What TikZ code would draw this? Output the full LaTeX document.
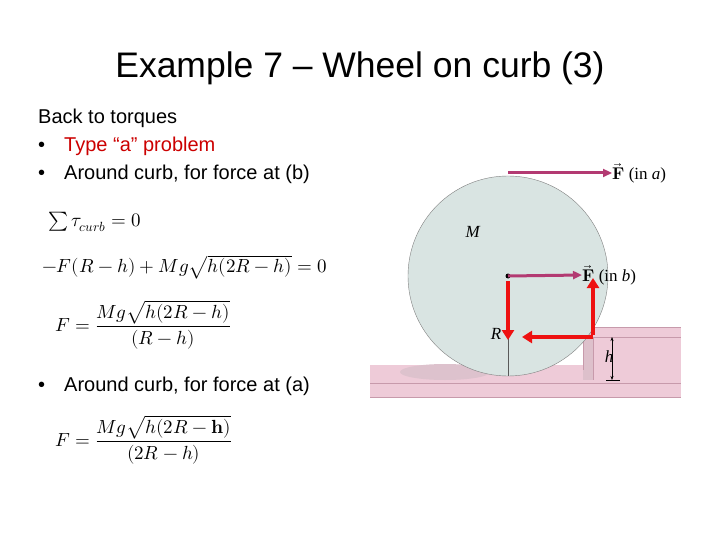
\documentclass[tikz,border=0pt]{standalone}
\usepackage{fontspec}
\setmainfont{Liberation Sans}
\newfontfamily\serif{Liberation Serif}
\usepackage{amsmath,unicode-math}
\setmathfont{Latin Modern Math}
\usetikzlibrary{arrows.meta}
\definecolor{wheel}{HTML}{D9E4E2}
\definecolor{slab}{HTML}{EECBD8}
\definecolor{slabd}{HTML}{C79AAB}
\definecolor{force}{HTML}{B33A72}
\definecolor{redarr}{HTML}{EE1111}
\definecolor{typ}{HTML}{CC0000}
\tikzset{
  body/.style={anchor=west,font=\fontsize{20}{24}\selectfont,inner sep=0},
  eq/.style={anchor=west,font=\fontsize{19}{22}\selectfont,inner sep=0},
  farrow/.style={force,line width=3pt,-{Triangle[length=9pt,width=8pt]}},
  rarrow/.style={redarr,line width=4pt,-{Triangle[length=10pt,width=12pt]}},
  lab/.style={font=\fontsize{17}{20}\selectfont\serif,inner sep=0}
}
\begin{document}
\begin{tikzpicture}[x=1pt,y=-1pt]
\useasboundingbox[fill=white] (0,0) rectangle (720,540);
\node[font=\fontsize{35.5}{40}\selectfont] (title) at (360,68) {Example 7 – Wheel on curb (3)};
\node[body] (t1) at (38,118) {Back to torques};
\node[body] (t2) at (38,146) {\textbullet\hspace{19pt}\textcolor{typ}{Type “a” problem}};
\node[body] (t3) at (38,174) {\textbullet\hspace{19pt}Around curb, for force at (b)};
\node[eq] (e1) at (48,222) {$\sum\tau_{curb}=0$};
\node[eq] (e2) at (42,267) {$-F(R-h)+Mg\sqrt{h(2R-h)}=0$};
\node[eq] (e3) at (55,325) {$F=\dfrac{Mg\sqrt{h(2R-h)}}{(R-h)}$};
\node[body] (t4) at (38,386) {\textbullet\hspace{19pt}Around curb, for force at (a)};
\node[eq] (e4) at (55,440) {$F=\dfrac{Mg\sqrt{h(2R-\symbf{h})}}{(2R-h)}$};
% ground
\fill[slab] (370,365) rectangle (681,397);
\draw[slabd] (370,383) -- (681,383);
\draw[slabd] (370,397) -- (681,397);
\fill[slab!85!gray] (583,327) rectangle (593,380);
\fill[slab] (593,327) rectangle (681,380);
\draw[slabd] (583,327) -- (681,327) (593,337) -- (681,337) (593,337) -- (593,380) (583,327)--(583,370);
\fill[slabd!60] (445,372) ellipse (45 and 8);
% wheel
\node[circle,fill=wheel,draw=gray,minimum size=200pt,inner sep=0] (w) at (508,276) {};
\draw[gray!70!black,thin] (508,338) -- (508,376);
\fill (508,276) circle (2.5pt);
\coordinate (top) at (508,173);
\node[lab,anchor=west] (Fa) at (612,173) {$\vec{\symbf F}$ (in \textit{a})};
\node[lab,anchor=west] (Fb) at (582,275) {$\vec{\symbf F}$ (in \textit{b})};
\draw[farrow] (top) -- (Fa.west);
\draw[farrow] (w.center) -- (Fb.west);
\node[lab] (M) at (473,232) {\textit{M}};
\node[lab] (R) at (496,334) {\textit{R}};
\node[lab] (h) at (609,357) {\textit{h}};
\coordinate (ht) at (612,337); \coordinate (hb) at (612,380);
\draw[{Stealth[length=4pt]}-{Stealth[length=4pt]},thin] (ht) -- (hb);
\draw[thin] (606,380) -- (620,380);
% red arrows
\coordinate (c) at (508,281); \coordinate (cd) at (508,340);
\coordinate (k) at (593,337); \coordinate (kl) at (522,337); \coordinate (ku) at (593,278);
\draw[rarrow] (c) -- (cd);
\draw[rarrow] (k) -- (kl);
\draw[rarrow] ([yshift=2pt]k) -- (ku);
\end{tikzpicture}
\end{document}
